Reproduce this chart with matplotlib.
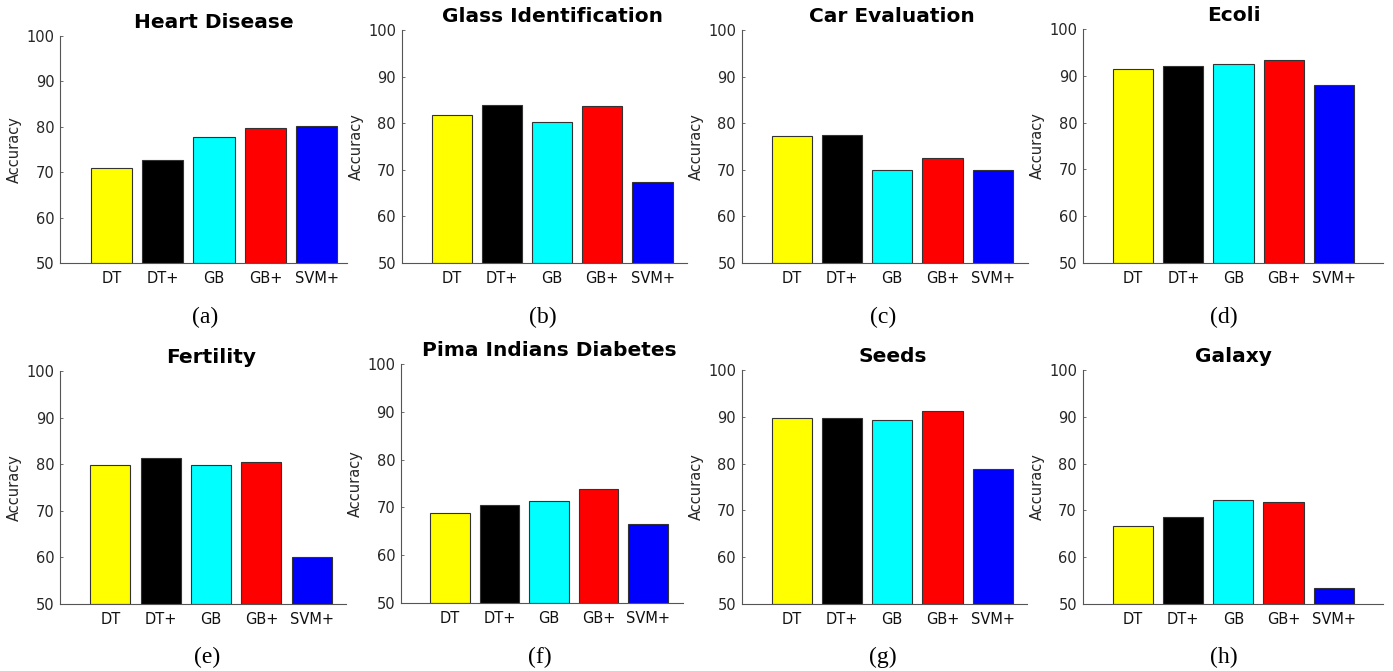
import matplotlib
matplotlib.use("Agg")
import matplotlib.pyplot as plt

plt.rcParams["font.family"] = ["DejaVu Sans"]

methods = ["DT", "DT+", "GB", "GB+", "SVM+"]
bar_colors = ["#ffff00", "#000000", "#00ffff", "#ff0000", "#0000ff"]

titles = [
    "Heart Disease", "Glass Identification", "Car Evaluation", "Ecoli",
    "Fertility", "Pima Indians Diabetes", "Seeds", "Galaxy",
]
captions = ["(a)", "(b)", "(c)", "(d)", "(e)", "(f)", "(g)", "(h)"]

heart = [70.9, 72.6, 77.8, 79.8, 80.1]
glass = [81.7, 83.8, 80.3, 83.6, 67.3]
car = [77.3, 77.5, 70.0, 72.6, 70.0]
ecoli = [91.4, 92.1, 92.5, 93.3, 88.0]
fertility = [79.9, 81.4, 79.8, 80.5, 60.1]
pima = [68.8, 70.5, 71.3, 73.8, 66.5]
seeds = [89.7, 89.7, 89.3, 91.2, 78.9]
galaxy = [66.6, 68.6, 72.2, 71.9, 53.4]
datasets = [heart, glass, car, ecoli, fertility, pima, seeds, galaxy]

W, H = 1393, 671
DPI = 100

# layout in pixels: (x at 0, x at 6, top, bottom, visible end of bottom spine)
rects = [
    (60, 368, 36, 263, 346.7),
    (401.5, 702.7, 30, 263, 686.7),
    (741.5, 1043, 30, 263, 1027.7),
    (1083, 1384, 29, 263, 1383),
    (60, 362, 371, 604, 346),
    (400.8, 697.3, 364, 603, 683),
    (741.5, 1043, 370, 604, 1027),
    (1082.5, 1384, 370, 604, 1383),
]
caption_pos = [
    (205.5, 317), (542.7, 317), (883.3, 317), (1223.7, 317),
    (207, 657), (540, 657), (883.3, 657), (1223.7, 657),
]

TEXT_GRAY = "#262626"
SPINE_GRAY = "#555555"

fig = plt.figure(figsize=(W / DPI, H / DPI), dpi=DPI)

for i, vals in enumerate(datasets):
    x0, x6, top, bottom, spine_end = rects[i]
    ax = fig.add_axes([x0 / W, 1 - bottom / H, (x6 - x0) / W, (bottom - top) / H])

    xs = list(range(1, len(methods) + 1))
    ax.bar(xs, [v - 50 for v in vals], bottom=50, width=0.8,
           color=bar_colors, edgecolor="#333333", linewidth=0.8, zorder=2)

    ax.set_xlim(0, 6)
    ax.set_ylim(50, 100)
    ax.set_yticks([50, 60, 70, 80, 90, 100])
    ax.set_xticks(xs)
    ax.set_xticklabels(methods)

    for side in ["top", "right"]:
        ax.spines[side].set_visible(False)
    ax.spines["left"].set_color(SPINE_GRAY)
    ax.spines["bottom"].set_color(SPINE_GRAY)
    ax.spines["left"].set_linewidth(0.8)
    ax.spines["bottom"].set_linewidth(0.8)
    ax.spines["bottom"].set_bounds(0, (spine_end - x0) / (x6 - x0) * 6)

    ax.tick_params(axis="y", direction="in", length=2.5, width=0.6,
                   colors=SPINE_GRAY, labelcolor=TEXT_GRAY, labelsize=10.5, pad=4)
    ax.tick_params(axis="x", length=0, labelcolor="#111111", labelsize=10.5, pad=6)

    ax.set_ylabel("Accuracy", fontsize=10.5, color=TEXT_GRAY, labelpad=3)
    ax.set_title(titles[i], fontsize=14.5, fontweight="bold", pad=5.5)

    cx, cy = caption_pos[i]
    fig.text(cx / W, 1 - cy / H, captions[i], ha="center", va="center",
             fontsize=17, family="Liberation Serif")

fig.savefig("out.png", dpi=DPI)
